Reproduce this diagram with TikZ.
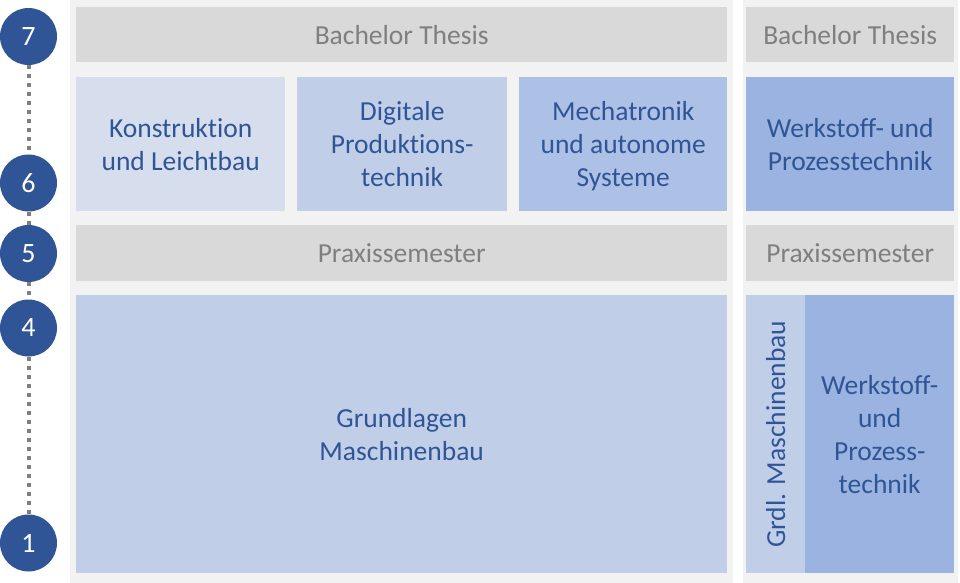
\documentclass[tikz,border=0pt]{standalone}
\usepackage{fontspec}
\setmainfont{Carlito}[Ligatures=NoCommon]
\usepackage{xcolor}
\definecolor{panelgray}{HTML}{F2F2F2}
\definecolor{boxgray}{HTML}{D9D9D9}
\definecolor{textgray}{HTML}{7F7F7F}
\definecolor{semblue}{HTML}{2F5597}
\definecolor{blueA}{HTML}{D6DDEC}
\definecolor{blueB}{HTML}{C0CEE8}
\definecolor{blueC}{HTML}{ADC0E5}
\definecolor{blueD}{HTML}{9AB3E0}

\tikzset{
  modbox/.style={anchor=north west, inner sep=0pt, align=center, text=semblue,
    font=\fontsize{27.5bp}{33bp}\selectfont},
  greybox/.style={modbox, fill=boxgray, text=textgray},
  semnum/.style={circle, fill=semblue, text=white, minimum size=57bp, inner sep=0pt,
    font=\fontsize{28bp}{33bp}\selectfont},
  dotline/.style={textgray, line width=4bp, dash pattern=on 4bp off 5bp}
}

\begin{document}
\begin{tikzpicture}[x=1bp, y=-1bp]
    \useasboundingbox (0,0) rectangle (960,583);
    % background panels
    \fill [panelgray] (70,0) rectangle (733,583);
    \fill [panelgray] (743,0) rectangle (958,583);

    % semester timeline
    \node [semnum] (s7) at (28.5,36.5) {7};
    \node [semnum] (s6) at (28.5,183) {6};
    \node [semnum] (s5) at (28.5,253.5) {5};
    \node [semnum] (s4) at (28.5,328) {4};
    \node [semnum] (s1) at (28.5,543) {1};
    \draw [dotline] (s7) -- (s6);
    \draw [dotline] (s6) -- (s5);
    \draw [dotline] (s5) -- (s4);
    \draw [dotline] (s4) -- (s1);

    % left column
    \node [greybox, minimum width=651bp, minimum height=55bp] (thesisL) at (76,7) {Bachelor Thesis};
    \node [modbox, fill=blueA, minimum width=209bp, minimum height=134bp] (konstr) at (76,77) {Konstruktion\\und Leichtbau};
    \node [modbox, fill=blueB, minimum width=210bp, minimum height=134bp] (digprod) at (297,77) {Digitale\\Produktions-\\technik};
    \node [modbox, fill=blueC, minimum width=208bp, minimum height=134bp] (mecha) at (519,77) {Mechatronik\\und autonome\\\smash{Systeme}};
    \node [greybox, minimum width=651bp, minimum height=56bp] (praxisL) at (76,225) {Praxissemester};
    \node [modbox, fill=blueB, minimum width=651bp, minimum height=278bp] (grundl) at (76,295) {Grundlagen\\Maschinenbau};

    % right column
    \node [greybox, minimum width=208bp, minimum height=55bp] (thesisR) at (746,7) {Bachelor Thesis};
    \node [modbox, fill=blueD, minimum width=208bp, minimum height=134bp] (wpt) at (746,77) {Werkstoff- und\\Prozesstechnik};
    \node [greybox, minimum width=208bp, minimum height=56bp] (praxisR) at (746,225) {Praxissemester};
    \node [modbox, fill=blueB, minimum width=59bp, minimum height=278bp] (grdl) at (746,295) {};
    \node [modbox, anchor=center, rotate=90] (grdltext) at (grdl.center) {Grdl. Maschinenbau};
    \node [modbox, fill=blueD, minimum width=149bp, minimum height=278bp] (wptlow) at (805,295) {Werkstoff-\\und\\Prozess-\\technik};
  \end{tikzpicture}
\end{document}
